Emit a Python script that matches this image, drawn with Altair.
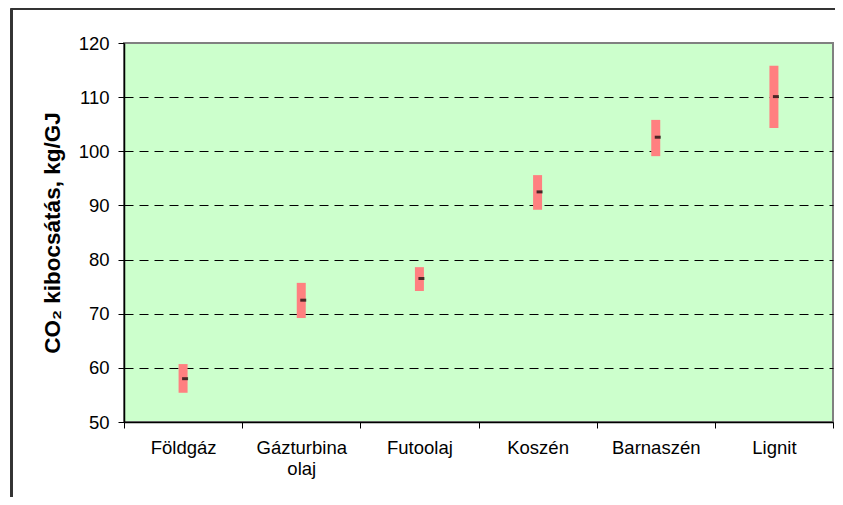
import altair as alt
import pandas as pd

categories = ["Földgáz", "Gázturbina\nolaj", "Futoolaj", "Koszén", "Barnaszén", "Lignit"]
low_vals = [55.4, 69.2, 74.2, 89.2, 99.1, 104.3]
high_vals = [60.7, 75.7, 78.6, 95.6, 105.8, 115.8]
mid_vals = [58.0, 72.5, 76.5, 92.5, 102.6, 110.1]

df = pd.DataFrame({"cat": categories, "low": low_vals, "high": high_vals, "mid": mid_vals})

FONT = "Liberation Sans"

x_enc = alt.X(
    "cat:N",
    sort=categories,
    title=None,
    scale=alt.Scale(paddingInner=0, paddingOuter=0),
    axis=alt.Axis(
        labelAngle=0,
        labelExpr="split(datum.label, '\\n')",
        labelLineHeight=21,
        labelFontSize=18.5,
        labelFont=FONT,
        labelColor="black",
        labelPadding=10,
        tickBand="extent",
        tickSize=6,
        tickColor="black",
        domainColor="black",
        domainWidth=1.5,
        grid=False,
    ),
)

y_scale = alt.Scale(domain=[50, 120], nice=False, zero=False)
y_axis = alt.Axis(
    values=[50, 60, 70, 80, 90, 100, 110, 120],
    title="CO₂ kibocsátás, kg/GJ",
    titleFont=FONT,
    titleFontSize=22.5,
    titleFontWeight="bold",
    titleColor="black",
    titlePadding=14,
    labelFont=FONT,
    labelFontSize=18.5,
    labelColor="black",
    labelPadding=9,
    tickSize=6,
    tickColor="black",
    domainColor="black",
    domainWidth=1.5,
    grid=True,
    gridColor="black",
    gridDash=[9, 6],
    gridWidth=1,
    gridOpacity={"condition": {"test": "datum.value >= 120 || datum.value <= 50", "value": 0}, "value": 1},
)

bars = alt.Chart(df).mark_bar(size=9, color="#FF8080").encode(
    x=x_enc,
    y=alt.Y("low:Q", scale=y_scale, axis=y_axis),
    y2="high:Q",
)

ticks = alt.Chart(df).mark_tick(size=6, thickness=3, color="black", xOffset=2, orient="horizontal").encode(
    x=alt.X("cat:N", sort=categories),
    y=alt.Y("mid:Q"),
)

border_top = alt.Chart(df).mark_rule(color="#333333", strokeWidth=2, clip=False).encode(
    x=alt.value(-112.5), x2=alt.value(760), y=alt.value(-34.5)
)
border_left = alt.Chart(df).mark_rule(color="#333333", strokeWidth=2, clip=False).encode(
    x=alt.value(-112.5), y=alt.value(-34.5), y2=alt.value(500)
)

chart = alt.layer(bars, ticks, border_top, border_left).properties(
    width=709,
    height=379,
    autosize=alt.AutoSizeParams(type="none"),
    padding={"left": 116, "top": 35, "right": 2, "bottom": 75},
    background="white",
).configure_view(
    fill="#CCFFCC",
    stroke="#808080",
    strokeWidth=2,
)

chart.save("out.html", embed_options={"renderer": "svg", "actions": False})
